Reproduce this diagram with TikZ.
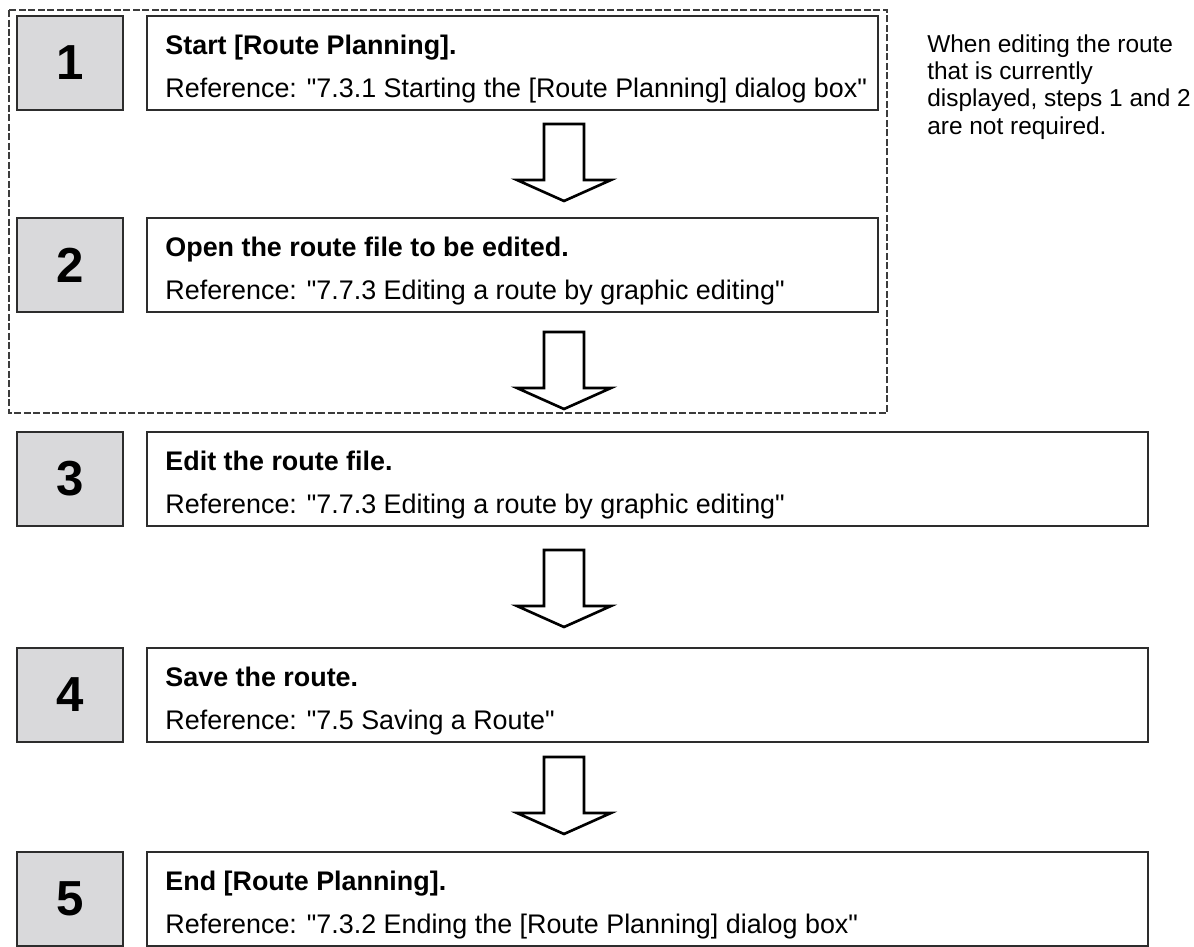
\documentclass[tikz,border=0pt]{standalone}
\usepackage{fontspec}
\setmainfont{Liberation Sans}[Ligatures=TeXOff]
\usetikzlibrary{calc, positioning}
\definecolor{stepGray}{RGB}{217,217,219}
\definecolor{lineGray}{RGB}{45,45,45}
\definecolor{dashGray}{RGB}{60,60,60}

% straight double quotes round a reference title
\newcommand{\qt}[1]{\symbol{34}#1\symbol{34}}

% hollow block arrow, #1 = top centre of the shaft
\newcommand{\flowarrow}[1]{%
  \draw[hollow] (#1) -- ++(20,0) -- ++(0,56) -- ++(27,0) -- ++(-47,21)
    -- ++(-47,-21) -- ++(27,0) -- ++(0,-56) -- cycle;}

\begin{document}
\begin{tikzpicture}[
  x=0.02cm, y=-0.02cm,
  numbox/.style={rectangle, draw=lineGray, fill=stepGray, line width=1.1pt,
    minimum width=2.12cm, minimum height=1.88cm, inner sep=0pt,
    font=\fontsize{28}{30}\selectfont\bfseries},
  textbox/.style={rectangle, draw=lineGray, fill=white, line width=1.1pt,
    minimum height=1.88cm, inner sep=0pt},
  title/.style={anchor=base west, inner sep=0pt,
    font=\fontsize{15.3}{18}\selectfont\bfseries},
  refline/.style={anchor=base west, inner sep=0pt,
    font=\fontsize{15.3}{18}\selectfont},
  hollow/.style={draw=black, fill=white, line width=1.5pt, line join=miter},
  group/.style={draw=dashGray, line width=1.2pt, dash pattern=on 1.4mm off 0.5mm},
]
\useasboundingbox (0,0) rectangle (1194,947);

%% -- optional group (steps 1 and 2) -----------------------------------------
\draw[group] (9,10) rectangle (887,413);

\node[anchor=north west, inner sep=0pt, align=left,
      font=\fontsize{13.9}{15.6}\selectfont]
  (NOTE) at (927,34)
  {When editing the route\\
   that is currently\\
   displayed, steps 1 and 2\\
   are not required.};

%% -- step 1 -------------------------------------------------------------------
\node[numbox] (N1) at (70,63) {1};
\node[textbox, minimum width=14.62cm] (T1) at (512.5,63) {};
\node[title]   at ([xshift=0.38cm,yshift=-0.78cm]T1.north west) {Start [Route Planning].};
\node[refline] at ([xshift=0.38cm,yshift=-1.64cm]T1.north west)
  {Reference: \qt{7.3.1 Starting the [Route Planning] dialog box}};

\coordinate (A1) at (564,124);
\flowarrow{A1}

%% -- step 2 -------------------------------------------------------------------
\node[numbox] (N2) at (70,265) {2};
\node[textbox, minimum width=14.62cm] (T2) at (512.5,265) {};
\node[title]   at ([xshift=0.38cm,yshift=-0.78cm]T2.north west) {Open the route file to be edited.};
\node[refline] at ([xshift=0.38cm,yshift=-1.64cm]T2.north west)
  {Reference: \qt{7.7.3 Editing a route by graphic editing}};

\coordinate (A2) at (564,332);
\flowarrow{A2}

%% -- step 3 -------------------------------------------------------------------
\node[numbox] (N3) at (70,479) {3};
\node[textbox, minimum width=20.02cm] (T3) at (647.5,479) {};
\node[title]   at ([xshift=0.38cm,yshift=-0.78cm]T3.north west) {Edit the route file.};
\node[refline] at ([xshift=0.38cm,yshift=-1.64cm]T3.north west)
  {Reference: \qt{7.7.3 Editing a route by graphic editing}};

\coordinate (A3) at (564,550);
\flowarrow{A3}

%% -- step 4 -------------------------------------------------------------------
\node[numbox] (N4) at (70,695) {4};
\node[textbox, minimum width=20.02cm] (T4) at (647.5,695) {};
\node[title]   at ([xshift=0.38cm,yshift=-0.78cm]T4.north west) {Save the route.};
\node[refline] at ([xshift=0.38cm,yshift=-1.64cm]T4.north west)
  {Reference: \qt{7.5 Saving a Route}};

\coordinate (A4) at (564,757);
\flowarrow{A4}

%% -- step 5 -------------------------------------------------------------------
\node[numbox] (N5) at (70,899) {5};
\node[textbox, minimum width=20.02cm] (T5) at (647.5,899) {};
\node[title]   at ([xshift=0.38cm,yshift=-0.78cm]T5.north west) {End [Route Planning].};
\node[refline] at ([xshift=0.38cm,yshift=-1.64cm]T5.north west)
  {Reference: \qt{7.3.2 Ending the [Route Planning] dialog box}};

\end{tikzpicture}
\end{document}
